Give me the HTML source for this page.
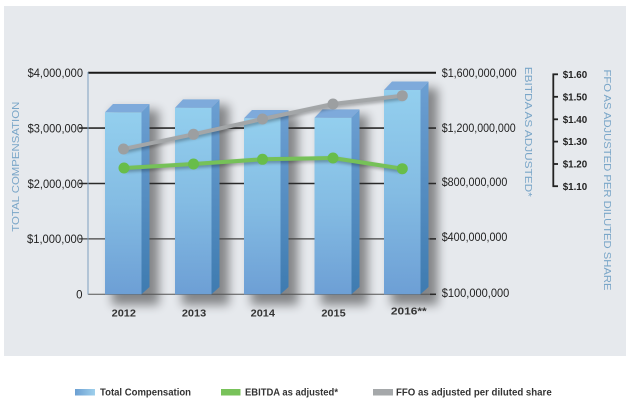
<!DOCTYPE html>
<html><head><meta charset="utf-8"><style>
html,body{margin:0;padding:0;background:#fff;}
svg{display:block;}
text{font-family:"Liberation Sans",Arial,sans-serif;}
</style></head><body>
<svg width="636" height="406" viewBox="0 0 636 406" xmlns="http://www.w3.org/2000/svg">
<defs>
<linearGradient id="front" x1="0" y1="0" x2="0" y2="1">
<stop offset="0" stop-color="#93cfee"/><stop offset="0.5" stop-color="#84bce3"/><stop offset="1" stop-color="#6d9fd5"/>
</linearGradient>
<linearGradient id="side" x1="0" y1="0" x2="0" y2="1">
<stop offset="0" stop-color="#6c9fd2"/><stop offset="1" stop-color="#3e7bb0"/>
</linearGradient>
<linearGradient id="leg" x1="0" y1="0" x2="1" y2="0">
<stop offset="0" stop-color="#6b9fd2"/><stop offset="1" stop-color="#9fd0ec"/>
</linearGradient>
<filter id="blur" x="-50%" y="-20%" width="200%" height="140%"><feGaussianBlur stdDeviation="5"/></filter>
<filter id="lsh" x="-10%" y="-50%" width="120%" height="200%"><feGaussianBlur stdDeviation="1.5"/></filter>
</defs>
<rect x="4" y="6" width="622" height="350" fill="#e6e9ed"/>

<!-- shadows -->
<g fill="#000" opacity="0.42" filter="url(#blur)">
<rect x="112" y="110" width="47" height="195"/>
<rect x="182" y="105" width="47" height="200"/>
<rect x="251" y="116" width="47" height="189"/>
<rect x="321" y="115" width="47" height="190"/>
<rect x="391" y="88" width="47" height="217"/>
</g>

<!-- gridlines -->
<line x1="88" y1="72.7" x2="436" y2="72.7" stroke="#1a1a1a" stroke-width="2"/>
<g stroke="#2a2a2a" stroke-width="1.6">
<line x1="79" y1="128.1" x2="436" y2="128.1"/>
<line x1="79" y1="183.5" x2="436" y2="183.5"/>
<line x1="79" y1="238.9" x2="436" y2="238.9" stroke="#444" stroke-width="1.3"/>
</g>
<line x1="88" y1="294.3" x2="436" y2="294.3" stroke="#555" stroke-width="1"/>
<line x1="88" y1="72" x2="88" y2="294.5" stroke="#7fa0bf" stroke-width="1"/>

<!-- bars -->
<g>
<polygon points="141.5,112.3 149.5,104 149.5,287 141.5,294.3" fill="url(#side)"/>
<rect x="105" y="112.3" width="36.5" height="182" fill="url(#front)"/>
<polygon points="105,112.3 113,104 149.5,104 141.5,112.3" fill="#7eaadb"/>

<polygon points="211.5,107.7 219.5,99.4 219.5,287 211.5,294.3" fill="url(#side)"/>
<rect x="175" y="107.7" width="36.5" height="186.6" fill="url(#front)"/>
<polygon points="175,107.7 183,99.4 219.5,99.4 211.5,107.7" fill="#7eaadb"/>

<polygon points="280.5,118.3 288.5,110 288.5,287 280.5,294.3" fill="url(#side)"/>
<rect x="244" y="118.3" width="36.5" height="176" fill="url(#front)"/>
<polygon points="244,118.3 252,110 288.5,110 280.5,118.3" fill="#7eaadb"/>

<polygon points="351.5,117.7 359.5,109.4 359.5,287 351.5,294.3" fill="url(#side)"/>
<rect x="314.5" y="117.7" width="37" height="176.6" fill="url(#front)"/>
<polygon points="314.5,117.7 322.5,109.4 359.5,109.4 351.5,117.7" fill="#7eaadb"/>

<polygon points="420.5,90 428.5,81.5 428.5,287 420.5,294.3" fill="url(#side)"/>
<rect x="384" y="90" width="36.5" height="204.3" fill="url(#front)"/>
<polygon points="384,90 392,81.5 428.5,81.5 420.5,90" fill="#7eaadb"/>
</g>

<!-- line shadows -->
<g opacity="0.3" filter="url(#lsh)" fill="none" stroke="#000" stroke-width="4">
<polyline points="124.5,151 194.5,136.3 263.5,121 334,106 403.3,97.7"/>
<polyline points="125,170 194.5,166 263.5,161.3 334,160 403.3,170.7"/>
</g>
<!-- FFO line -->
<polyline points="123.5,149 193.5,134.3 262.5,119 333,104 402.3,95.7" fill="none" stroke="#a3a6a8" stroke-width="4" stroke-linejoin="round"/>
<g fill="#9c9fa1">
<circle cx="123.5" cy="149" r="5.5"/><circle cx="193.5" cy="134.3" r="5.5"/><circle cx="262.5" cy="119" r="5.5"/><circle cx="333" cy="104" r="5.5"/><circle cx="402.3" cy="95.7" r="5.5"/>
</g>
<!-- EBITDA line -->
<polyline points="124,168 193.5,164 262.5,159.3 333,158 402.3,168.7" fill="none" stroke="#76c158" stroke-width="4" stroke-linejoin="round"/>
<g fill="#68bd4a">
<circle cx="124" cy="168" r="5.5"/><circle cx="193.5" cy="164" r="5.5"/><circle cx="262.5" cy="159.3" r="5.5"/><circle cx="333" cy="158" r="5.5"/><circle cx="402.3" cy="168.7" r="5.5"/>
</g>

<!-- left labels -->
<g font-size="11.5" fill="#222" text-anchor="end">
<text x="83" y="77" textLength="55.4" lengthAdjust="spacingAndGlyphs">$4,000,000</text>
<text x="83" y="132.4" textLength="55.4" lengthAdjust="spacingAndGlyphs">$3,000,000</text>
<text x="83" y="187.8" textLength="55.4" lengthAdjust="spacingAndGlyphs">$2,000,000</text>
<text x="83" y="243.2" textLength="56" lengthAdjust="spacingAndGlyphs">$1,000,000</text>
<text x="82.5" y="298.6">0</text>
</g>
<text transform="translate(19,166.7) rotate(-90)" font-size="10.5" fill="#7aa6c8" text-anchor="middle" textLength="130" lengthAdjust="spacingAndGlyphs">TOTAL COMPENSATION</text>

<!-- right labels -->
<g stroke="#2a2a2a" stroke-width="1.5">
<line x1="430" y1="238.9" x2="436" y2="238.9"/>
<line x1="430" y1="294.3" x2="436" y2="294.3"/>
</g>
<g font-size="11.5" fill="#222">
<text x="441.7" y="77" textLength="75" lengthAdjust="spacingAndGlyphs">$1,600,000,000</text>
<text x="441.7" y="132" textLength="74" lengthAdjust="spacingAndGlyphs">$1,200,000,000</text>
<text x="441.7" y="186.2" textLength="65.6" lengthAdjust="spacingAndGlyphs">$800,000,000</text>
<text x="441.7" y="241.2" textLength="65.7" lengthAdjust="spacingAndGlyphs">$400,000,000</text>
<text x="441.7" y="296.8" textLength="67.6" lengthAdjust="spacingAndGlyphs">$100,000,000</text>
</g>
<text transform="translate(525,131.8) rotate(90)" font-size="10.5" fill="#7aa6c8" text-anchor="middle" textLength="130" lengthAdjust="spacingAndGlyphs">EBITDA AS ADJUSTED*</text>

<!-- FFO axis -->
<g stroke="#222" stroke-width="1.8">
<line x1="553.3" y1="73.5" x2="553.3" y2="186.8"/>
<line x1="552.5" y1="74.3" x2="558" y2="74.3"/>
<line x1="553.3" y1="96.8" x2="558" y2="96.8"/>
<line x1="553.3" y1="119.3" x2="558" y2="119.3"/>
<line x1="553.3" y1="141.6" x2="558" y2="141.6"/>
<line x1="553.3" y1="164" x2="558" y2="164"/>
<line x1="552.5" y1="186.2" x2="558" y2="186.2"/>
</g>
<g font-size="10.5" font-weight="bold" fill="#222">
<text x="562.7" y="78" textLength="24.5" lengthAdjust="spacingAndGlyphs">$1.60</text>
<text x="562.7" y="100.6" textLength="24.5" lengthAdjust="spacingAndGlyphs">$1.50</text>
<text x="562.7" y="123" textLength="24.5" lengthAdjust="spacingAndGlyphs">$1.40</text>
<text x="562.7" y="145.2" textLength="24.5" lengthAdjust="spacingAndGlyphs">$1.30</text>
<text x="562.7" y="167.6" textLength="24.5" lengthAdjust="spacingAndGlyphs">$1.20</text>
<text x="562.7" y="190" textLength="24.5" lengthAdjust="spacingAndGlyphs">$1.10</text>
</g>
<text transform="translate(604,180) rotate(90)" font-size="10.5" fill="#7aa6c8" text-anchor="middle" textLength="221" lengthAdjust="spacingAndGlyphs">FFO AS ADJUSTED PER DILUTED SHARE</text>

<!-- year labels -->
<g font-size="10.5" font-weight="bold" fill="#333" text-anchor="middle">
<text x="123.8" y="316.5" textLength="24.3" lengthAdjust="spacingAndGlyphs">2012</text>
<text x="194" y="316.5" textLength="24.3" lengthAdjust="spacingAndGlyphs">2013</text>
<text x="262.8" y="316.5" textLength="24.3" lengthAdjust="spacingAndGlyphs">2014</text>
<text x="333.5" y="316.5" textLength="24.3" lengthAdjust="spacingAndGlyphs">2015</text>
<text x="408.8" y="314.5" textLength="35.7" lengthAdjust="spacingAndGlyphs">2016**</text>
</g>

<!-- legend -->
<rect x="75" y="389" width="20" height="6.5" fill="url(#leg)"/>
<rect x="221" y="389" width="19.5" height="6.5" fill="#78c25a"/>
<rect x="373" y="389" width="20" height="6.5" fill="#a5a8aa"/>
<g font-size="10" font-weight="bold" fill="#333">
<text x="100" y="395.7" textLength="91" lengthAdjust="spacingAndGlyphs">Total Compensation</text>
<text x="245" y="395.7" textLength="93" lengthAdjust="spacingAndGlyphs">EBITDA as adjusted*</text>
<text x="396" y="395.7" textLength="155.7" lengthAdjust="spacingAndGlyphs">FFO as adjusted per diluted share</text>
</g>
</svg>
</body></html>
